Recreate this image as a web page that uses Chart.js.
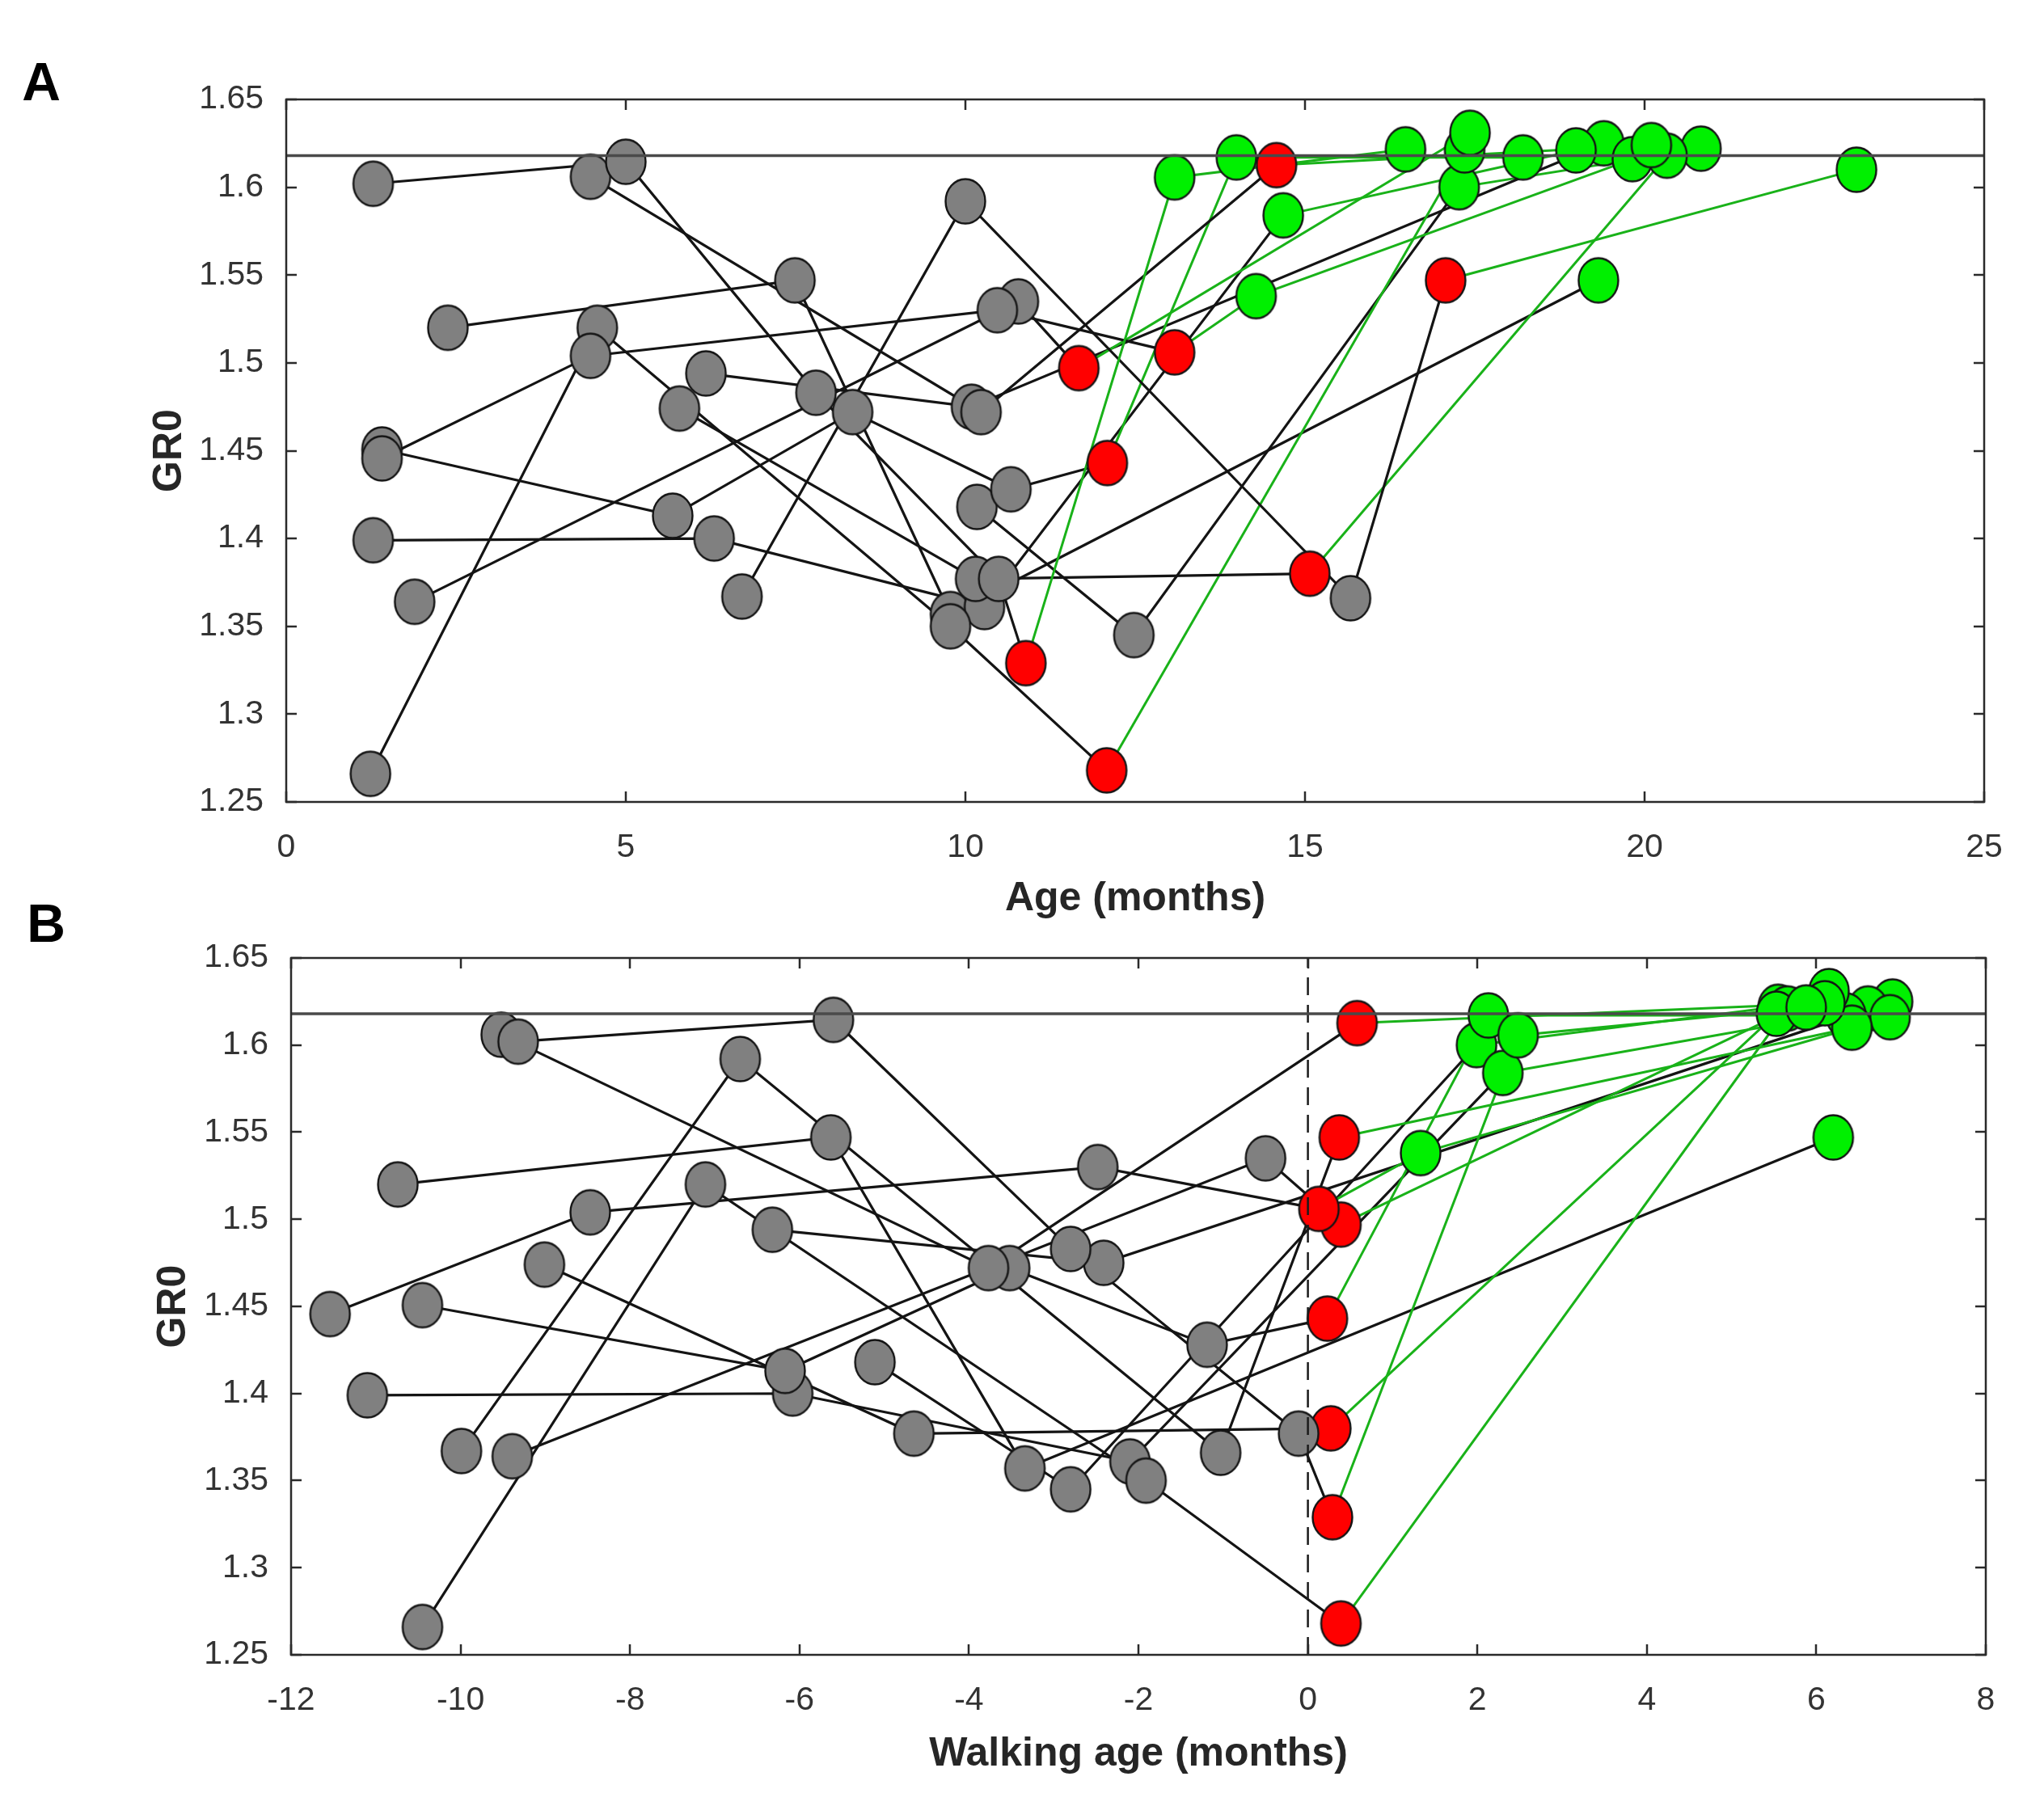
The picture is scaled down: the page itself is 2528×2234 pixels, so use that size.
<!DOCTYPE html>
<html>
<head>
<meta charset="utf-8">
<script src="https://cdn.jsdelivr.net/npm/chart.js@4.4.1/dist/chart.umd.min.js"></script>
<style>
  html, body { margin: 0; padding: 0; background: #fff; }
  body { width: 2528px; height: 2234px; position: relative; overflow: hidden; }
  canvas { position: absolute; left: 0; }
  #chartA { top: 0; }
  #chartB { top: 1100px; }
</style>
</head>
<body>
<canvas id="chartA" width="2528" height="1150"></canvas>
<canvas id="chartB" width="2528" height="1134"></canvas>
<script>
// one row of visits per infant: age (months), GR0, and stage of each visit
// stage: g = before walking, r = first visit after walking onset, n = later walking visits
const ageS01 = [1.28, 5.0, 7.8, 10.49, 10.89, 13.08, 16.48];
const gr0S01 = [1.602, 1.6145, 1.483, 1.377, 1.329, 1.6056, 1.6216];
const stageS01 = 'ggggrnn';

const ageS02 = [4.48, 10.23, 14.58, 20.1];
const gr0S02 = [1.606, 1.472, 1.6126, 1.624];
const stageS02 = 'ggrn';

const ageS03 = [6.71, 10.0, 15.67, 17.07, 23.12];
const gr0S03 = [1.367, 1.592, 1.366, 1.547, 1.610];
const stageS03 = 'gggrn';

const ageS04 = [1.41, 4.48, 10.47, 13.08, 14.28, 19.82];
const gr0S04 = [1.4456, 1.504, 1.530, 1.506, 1.538, 1.616];
const stageS04 = 'gggrnn';

const ageS05 = [1.89, 10.78, 11.67, 17.43];
const gr0S05 = [1.364, 1.535, 1.497, 1.631];
const stageS05 = 'ggrn';

const ageS06 = [1.41, 5.69, 8.34, 10.67, 12.09, 13.99, 18.21];
const gr0S06 = [1.4507, 1.413, 1.472, 1.428, 1.443, 1.617, 1.617];
const stageS06 = 'ggggrnn';

const ageS07 = [5.79, 10.15, 15.07, 20.33];
const gr0S07 = [1.474, 1.377, 1.380, 1.618];
const stageS07 = 'ggrn';

const ageS08 = [1.24, 4.58, 9.78, 12.08, 17.35];
const gr0S08 = [1.266, 1.520, 1.350, 1.268, 1.621];
const stageS08 = 'gggrn';

const ageS09 = [1.28, 6.3, 10.28, 14.68, 18.99];
const gr0S09 = [1.399, 1.400, 1.361, 1.584, 1.621];
const stageS09 = 'gggnn';

const ageS10 = [6.18, 10.09, 19.4];
const gr0S10 = [1.494, 1.475, 1.625];
const stageS10 = 'ggn';

const ageS11 = [2.38, 7.49, 9.78, 19.32];
const gr0S11 = [1.520, 1.547, 1.357, 1.547];
const stageS11 = 'gggn';

const ageS12 = [10.17, 12.48, 17.27, 20.83];
const gr0S12 = [1.418, 1.345, 1.600, 1.622];
const stageS12 = 'ggnn';

// age at walking onset, same order as the infants above
const walkOnset = [10.6, 14.0, 16.7, 12.95, 11.28, 11.86, 14.8, 11.69, 12.38, 12.5, 13.12, 15.28];

const goldenRatio = 1.618;
const yTicks = [1.25, 1.3, 1.35, 1.4, 1.45, 1.5, 1.55, 1.6, 1.65];
const yTickLabels = ['1.25', '1.3', '1.35', '1.4', '1.45', '1.5', '1.55', '1.6', '1.65'];
const ageTicks = [0, 5, 10, 15, 20, 25];
const walkTicks = [-12, -10, -8, -6, -4, -2, 0, 2, 4, 6, 8];

const infants = [
  [ageS01, gr0S01, stageS01], [ageS02, gr0S02, stageS02], [ageS03, gr0S03, stageS03],
  [ageS04, gr0S04, stageS04], [ageS05, gr0S05, stageS05], [ageS06, gr0S06, stageS06],
  [ageS07, gr0S07, stageS07], [ageS08, gr0S08, stageS08], [ageS09, gr0S09, stageS09],
  [ageS10, gr0S10, stageS10], [ageS11, gr0S11, stageS11], [ageS12, gr0S12, stageS12]
];

const FONT = '"Liberation Sans", Arial, Helvetica, sans-serif';
const fill = { g: '#808080', r: '#ff0000', n: '#00f000' };

// slightly tall oval markers, like the original figure
function oval(color) {
  const c = document.createElement('canvas');
  c.width = 54; c.height = 60;
  const g = c.getContext('2d');
  g.beginPath();
  g.ellipse(27, 30, 24.5, 27.5, 0, 0, Math.PI * 2);
  g.fillStyle = color;
  g.fill();
  g.lineWidth = 2.4;
  g.strokeStyle = '#141414';
  g.stroke();
  return c;
}
const marker = { g: oval(fill.g), r: oval(fill.r), n: oval(fill.n) };

const frame = {
  id: 'frame',
  afterDraw(chart, args, opts) {
    const { ctx, chartArea: a, scales: { x, y } } = chart;
    const tl = 13;
    ctx.save();
    ctx.strokeStyle = '#2a2a2a';
    ctx.lineWidth = 2.5;
    ctx.strokeRect(a.left, a.top, a.right - a.left, a.bottom - a.top);
    ctx.beginPath();
    x.ticks.forEach(t => {
      const px = Math.round(x.getPixelForValue(t.value));
      ctx.moveTo(px, a.bottom); ctx.lineTo(px, a.bottom - tl);
      ctx.moveTo(px, a.top); ctx.lineTo(px, a.top + tl);
    });
    y.ticks.forEach(t => {
      const py = Math.round(y.getPixelForValue(t.value));
      ctx.moveTo(a.left, py); ctx.lineTo(a.left + tl, py);
      ctx.moveTo(a.right, py); ctx.lineTo(a.right - tl, py);
    });
    ctx.stroke();
    ctx.fillStyle = '#000';
    ctx.font = 'bold 66px ' + FONT;
    ctx.textAlign = 'center';
    ctx.textBaseline = 'middle';
    ctx.fillText(opts.letter, opts.lx, opts.ly);
    ctx.restore();
  }
};

function makeChart(id, walking, xTicks, xTitle, letter, geo) {
  const datasets = [];
  const xMin = xTicks[0], xMax = xTicks[xTicks.length - 1];
  // reference lines, drawn on top of the markers
  datasets.push({
    data: [{ x: xMin, y: goldenRatio }, { x: xMax, y: goldenRatio }],
    showLine: true, borderColor: '#4a4a4a', borderWidth: 3.5, pointRadius: 0, order: 0
  });
  if (walking) {
    datasets.push({
      data: [{ x: 0, y: yTicks[0] }, { x: 0, y: yTicks[yTicks.length - 1] }],
      showLine: true, borderColor: '#1a1a1a', borderWidth: 2.5, borderDash: [22, 12],
      pointRadius: 0, order: 0
    });
  }
  infants.forEach(([ages, gr0, stage], i) => {
    const pts = ages.map((a, k) => ({ x: walking ? a - walkOnset[i] : a, y: gr0[k] }));
    datasets.push({
      data: pts, showLine: true, pointRadius: 0, order: 2,
      segment: {
        borderColor: c => stage[c.p0DataIndex] === 'g' ? '#141414' : '#19b219',
        borderWidth: c => stage[c.p0DataIndex] === 'g' ? 3.2 : 3.0
      }
    });
    datasets.push({
      data: pts, showLine: false, order: 1,
      pointRadius: 25,
      pointStyle: stage.split('').map(s => marker[s])
    });
  });

  return new Chart(document.getElementById(id), {
    type: 'scatter',
    data: { datasets },
    plugins: [frame],
    options: {
      responsive: false,
      animation: false,
      devicePixelRatio: 1,
      layout: { padding: { top: geo.top, right: geo.right, left: 0, bottom: 0 } },
      plugins: { legend: { display: false }, tooltip: { enabled: false }, frame: { letter, lx: geo.lx, ly: geo.ly } },
      scales: {
        x: {
          type: 'linear', min: xMin, max: xMax,
          afterBuildTicks: s => { s.ticks = xTicks.map(v => ({ value: v })); },
          afterFit: s => { s.height = geo.axisH; },
          grid: { display: false }, border: { display: false },
          ticks: { padding: 24, color: '#333', font: { family: FONT, size: 41 }, maxRotation: 0, callback: v => String(v) },
          title: { display: true, text: xTitle, color: '#262626', font: { family: FONT, size: 50, weight: 'bold' }, padding: { top: 0, bottom: geo.titlePad } }
        },
        y: {
          type: 'linear', min: yTicks[0], max: yTicks[yTicks.length - 1],
          afterBuildTicks: s => { s.ticks = yTicks.map(v => ({ value: v })); },
          afterFit: s => { s.width = geo.left; },
          grid: { display: false }, border: { display: false },
          ticks: { padding: 20, color: '#333', font: { family: FONT, size: 41 }, callback: (v, i) => yTickLabels[i] },
          title: { display: true, text: 'GR0', color: '#262626', font: { family: FONT, size: 50, weight: 'bold' }, padding: { top: geo.yTitle, bottom: 0 } }
        }
      }
    }
  });
}

makeChart('chartA', false, ageTicks, 'Age (months)', 'A',
  { top: 123, right: 74, left: 354, axisH: 158, titlePad: 8, yTitle: 180, lx: 51, ly: 106 });
makeChart('chartB', true, walkTicks, 'Walking age (months)', 'B',
  { top: 85, right: 72, left: 360, axisH: 187, titlePad: 34, yTitle: 185, lx: 57, ly: 47 });
</script>
</body>
</html>
